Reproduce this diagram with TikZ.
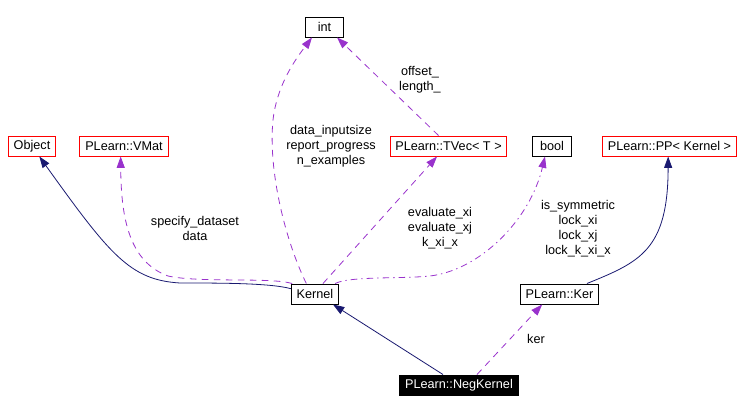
\documentclass[tikz,border=0pt]{standalone}
\usepackage{fontspec}
\setmainfont{Liberation Sans}
\usetikzlibrary{arrows.meta}
\definecolor{colInherit}{RGB}{25,25,112}
\definecolor{colUsage}{RGB}{153,50,204}
\definecolor{colExtern}{RGB}{255,0,0}

\begin{document}
\begin{tikzpicture}[
  x=0.75pt, y=-0.75pt,
  box/.style={rectangle, draw, line width=0.75pt, minimum width=29pt,
              minimum height=15pt, inner xsep=4pt, inner ysep=0pt,
              font=\fontsize{9.5}{11.25}\selectfont},
  extbox/.style={box, draw=colExtern},
  curbox/.style={box, fill=black, text=white},
  lbl/.style={align=center, font=\fontsize{9.5}{11.25}\selectfont},
  inh/.style={-{Triangle[length=8.5pt,width=6pt]}, colInherit, line width=0.6pt},
  use/.style={-{Triangle[length=8.5pt,width=6pt]}, colUsage, line width=0.6pt,
              dash pattern=on 5pt off 4pt},
  usedot/.style={use, dash pattern=on 5pt off 3pt on 1pt off 3pt},
]
\useasboundingbox (0,0) rectangle (744,412);

% classes
\node[box] (int) at (324.5,27) {int};
\node[extbox] (object) at (32,146) {Object};
\node[extbox] (vmat) at (124,146) {PLearn::VMat};
\node[extbox] (tvec) at (448.5,146) {PLearn::TVec< T >};
\node[box] (bool) at (552,146) {bool};
\node[extbox] (pp) at (669.5,146) {PLearn::PP< Kernel >};
\node[box] (kernel) at (315,294) {Kernel};
\node[box] (ker) at (559.5,294) {PLearn::Ker};
\node[curbox] (negkernel) at (459,385) {PLearn::NegKernel};

% member labels
\node[lbl] (lblint) at (420,80) {offset\_\\length\_};
\node[lbl] (lblkint) at (331,146) {data\_inputsize\\report\_progress\\n\_examples};
\node[lbl] (lblvmat) at (195,228) {specify\_dataset\\data};
\node[lbl] (lbltvec) at (440,228) {evaluate\_xi\\evaluate\_xj\\k\_xi\_x};
\node[lbl] (lblbool) at (578,229) {is\_symmetric\\lock\_xi\\lock\_xj\\lock\_k\_xi\_x};
\node[lbl] (lblker) at (536,339) {ker};

% inheritance
\draw[inh] ([yshift=4pt]kernel.west) .. controls (270,283) and (220,283) .. (180,283)
  .. controls (130,280) and (110,255) .. ([xshift=5.5pt]object.south);
\draw[inh] ([xshift=-12pt]negkernel.north) -- ([xshift=13.5pt]kernel.south);
\draw[inh] ([xshift=20.6pt]ker.north) .. controls (640,262) and (668,250) .. ([xshift=-1pt]pp.south);

% usage
\draw[use] ([xshift=1pt]kernel.north west) .. controls (270,277) and (200,283) .. (168,276)
  .. controls (130,262) and (121,220) .. ([xshift=-2.5pt]vmat.south);
\draw[use] ([xshift=-6.5pt]kernel.north) .. controls (285,240) and (268,170) .. (273,120)
  .. controls (277,85) and (295,60) .. ([xshift=-9.4pt]int.south);
\draw[use] ([xshift=-7.5pt]tvec.north) -- ([xshift=9.4pt]int.south);
\draw[use] ([xshift=6pt]kernel.north) -- ([xshift=-8.6pt]tvec.south);
\draw[usedot] ([xshift=-3pt]kernel.north east) .. controls (350,276) and (400,279) .. (430,276)
  .. controls (480,270) and (530,220) .. ([xshift=-5.25pt]bool.south);
\draw[use] ([xshift=13.5pt]negkernel.north) -- ([xshift=-13pt]ker.south);

\end{tikzpicture}
\end{document}
